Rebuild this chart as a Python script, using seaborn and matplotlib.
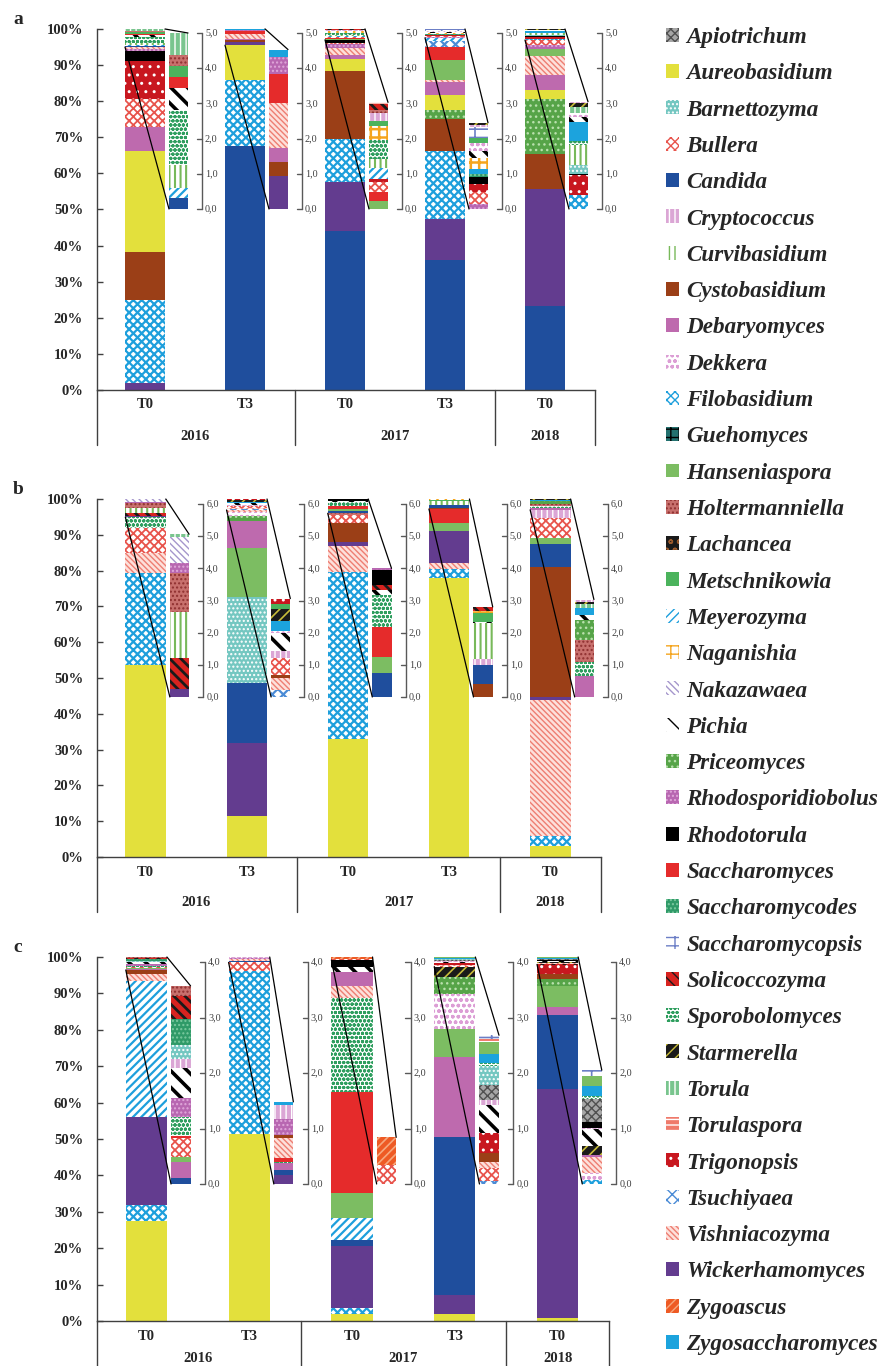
import matplotlib
matplotlib.use("Agg")
import matplotlib.pyplot as plt
import seaborn as sns
from matplotlib.patches import Patch, ConnectionPatch
from matplotlib.font_manager import FontProperties
from matplotlib.transforms import blended_transform_factory

# ---------------- data (relative abundance, %) ----------------
samples = ["T0", "T3", "T0", "T3", "T0"]
years = ["2016", "2017", "2018"]
year_pos = [0.5, 2.5, 4.0]

genera = ["Apiotrichum", "Aureobasidium", "Barnettozyma", "Bullera", "Candida",
          "Cryptococcus", "Curvibasidium", "Cystobasidium", "Debaryomyces", "Dekkera",
          "Filobasidium", "Guehomyces", "Hanseniaspora", "Holtermanniella", "Lachancea",
          "Metschnikowia", "Meyerozyma", "Naganishia", "Nakazawaea", "Pichia",
          "Priceomyces", "Rhodosporidiobolus", "Rhodotorula", "Saccharomyces",
          "Saccharomycodes", "Saccharomycopsis", "Solicoccozyma", "Sporobolomyces",
          "Starmerella", "Torula", "Torulaspora", "Trigonopsis", "Tsuchiyaea",
          "Vishniacozyma", "Wickerhamomyces", "Zygoascus", "Zygosaccharomyces"]

# main part of each bar (bottom -> top)
a_main = [
    [("Wickerhamomyces", 2.0), ("Filobasidium", 23.0), ("Cystobasidium", 13.3), ("Aureobasidium", 28.0),
     ("Debaryomyces", 6.6), ("Bullera", 7.6), ("Trigonopsis", 10.7), ("Rhodotorula", 2.8),
     ("Rhodosporidiobolus", 0.5), ("Vishniacozyma", 0.5)],
    [("Candida", 67.7), ("Filobasidium", 18.2), ("Aureobasidium", 9.6)],
    [("Candida", 44.0), ("Wickerhamomyces", 13.7), ("Filobasidium", 11.8), ("Cystobasidium", 18.8),
     ("Aureobasidium", 3.3), ("Debaryomyces", 1.1), ("Vishniacozyma", 1.9), ("Rhodosporidiobolus", 1.2),
     ("Bullera", 0.3), ("Rhodotorula", 0.9)],
    [("Candida", 36.0), ("Wickerhamomyces", 11.4), ("Filobasidium", 18.9), ("Cystobasidium", 8.8),
     ("Priceomyces", 2.5), ("Aureobasidium", 4.2), ("Debaryomyces", 3.5), ("Vishniacozyma", 0.6),
     ("Hanseniaspora", 5.5), ("Saccharomyces", 3.7), ("Tsuchiyaea", 1.5), ("Meyerozyma", 0.8),
     ("Curvibasidium", 0.15)],
    [("Candida", 23.3), ("Wickerhamomyces", 32.3), ("Cystobasidium", 9.9), ("Priceomyces", 15.2),
     ("Aureobasidium", 2.4), ("Debaryomyces", 4.1), ("Vishniacozyma", 5.3), ("Hanseniaspora", 1.9),
     ("Rhodosporidiobolus", 1.2), ("Bullera", 1.35)],
]
# minor genera on top of each bar, also shown enlarged in the small bar
a_top = [
    [("Candida", 0.30), ("Meyerozyma", 0.30), ("Curvibasidium", 0.65), ("Sporobolomyces", 1.56),
     ("Pichia", 0.64), ("Saccharomyces", 0.30), ("Metschnikowia", 0.32), ("Holtermanniella", 0.31),
     ("Torula", 0.62)],
    [("Wickerhamomyces", 0.94), ("Cystobasidium", 0.39), ("Debaryomyces", 0.40), ("Vishniacozyma", 1.27),
     ("Saccharomyces", 0.83), ("Rhodosporidiobolus", 0.49), ("Zygosaccharomyces", 0.21)],
    [("Hanseniaspora", 0.24), ("Saccharomyces", 0.24), ("Bullera", 0.30), ("Trigonopsis", 0.08),
     ("Meyerozyma", 0.30), ("Curvibasidium", 0.25), ("Sporobolomyces", 0.55), ("Naganishia", 0.40),
     ("Metschnikowia", 0.14), ("Cryptococcus", 0.22), ("Holtermanniella", 0.09), ("Solicoccozyma", 0.17),
     ("Torulaspora", 0.05)],
    [("Rhodosporidiobolus", 0.14), ("Bullera", 0.33), ("Trigonopsis", 0.24), ("Rhodotorula", 0.21),
     ("Saccharomycodes", 0.07), ("Zygosaccharomyces", 0.15), ("Naganishia", 0.30), ("Pichia", 0.22),
     ("Dekkera", 0.22), ("Metschnikowia", 0.13), ("Saccharomycopsis", 0.31), ("Cryptococcus", 0.07),
     ("Starmerella", 0.06)],
    [("Filobasidium", 0.41), ("Trigonopsis", 0.55), ("Rhodotorula", 0.04), ("Barnettozyma", 0.26),
     ("Curvibasidium", 0.57), ("Sporobolomyces", 0.10), ("Zygosaccharomyces", 0.55), ("Pichia", 0.14),
     ("Dekkera", 0.12), ("Torula", 0.17), ("Starmerella", 0.11), ("Cryptococcus", 0.03)],
]

b_main = [
    [("Aureobasidium", 53.6), ("Filobasidium", 25.6), ("Vishniacozyma", 5.8), ("Bullera", 6.8),
     ("Sporobolomyces", 3.14)],
    [("Aureobasidium", 11.5), ("Wickerhamomyces", 20.3), ("Candida", 16.8), ("Barnettozyma", 23.9),
     ("Hanseniaspora", 13.7), ("Debaryomyces", 7.7), ("Priceomyces", 1.4), ("Dekkera", 1.0),
     ("Vishniacozyma", 0.64)],
    [("Aureobasidium", 33.0), ("Filobasidium", 46.7), ("Vishniacozyma", 7.2), ("Wickerhamomyces", 1.2),
     ("Cystobasidium", 5.1), ("Bullera", 2.3), ("Holtermanniella", 0.5)],
    [("Aureobasidium", 77.8), ("Filobasidium", 2.6), ("Vishniacozyma", 1.8), ("Wickerhamomyces", 9.0),
     ("Hanseniaspora", 2.2), ("Saccharomyces", 3.8)],
    [("Aureobasidium", 3.0), ("Filobasidium", 2.9), ("Vishniacozyma", 38.0), ("Wickerhamomyces", 0.8),
     ("Cystobasidium", 36.2), ("Candida", 6.5), ("Hanseniaspora", 1.6), ("Bullera", 5.6),
     ("Cryptococcus", 2.37)],
]
b_top = [
    [("Wickerhamomyces", 0.25), ("Solicoccozyma", 0.96), ("Curvibasidium", 1.42), ("Holtermanniella", 1.21),
     ("Rhodosporidiobolus", 0.33), ("Nakazawaea", 0.79), ("Torula", 0.10)],
    [("Tsuchiyaea", 0.22), ("Vishniacozyma", 0.37), ("Cystobasidium", 0.09), ("Bullera", 0.53),
     ("Cryptococcus", 0.22), ("Pichia", 0.56), ("Dekkera", 0.05), ("Zygosaccharomyces", 0.32),
     ("Starmerella", 0.37), ("Metschnikowia", 0.16), ("Trigonopsis", 0.17)],
    [("Candida", 0.75), ("Hanseniaspora", 0.48), ("Saccharomyces", 0.95), ("Sporobolomyces", 0.99),
     ("Pichia", 0.15), ("Solicoccozyma", 0.16), ("Rhodotorula", 0.46), ("Rhodosporidiobolus", 0.06)],
    [("Cystobasidium", 0.40), ("Candida", 0.59), ("Cryptococcus", 0.19), ("Curvibasidium", 1.12),
     ("Pichia", 0.04), ("Metschnikowia", 0.26), ("Naganishia", 0.08), ("Solicoccozyma", 0.12)],
    [("Debaryomyces", 0.65), ("Sporobolomyces", 0.45), ("Holtermanniella", 0.67), ("Priceomyces", 0.62),
     ("Pichia", 0.16), ("Zygosaccharomyces", 0.21), ("Torula", 0.12), ("Starmerella", 0.06),
     ("Cryptococcus", 0.09)],
]

c_main = [
    [("Aureobasidium", 27.5), ("Filobasidium", 4.4), ("Wickerhamomyces", 24.1), ("Meyerozyma", 37.4),
     ("Vishniacozyma", 1.9), ("Cystobasidium", 1.13)],
    [("Aureobasidium", 51.3), ("Filobasidium", 44.9), ("Bullera", 2.32)],
    [("Aureobasidium", 1.8), ("Filobasidium", 1.7), ("Wickerhamomyces", 17.2), ("Candida", 1.6),
     ("Meyerozyma", 5.9), ("Hanseniaspora", 7.1), ("Saccharomyces", 27.7), ("Sporobolomyces", 25.7),
     ("Vishniacozyma", 3.3), ("Debaryomyces", 4.0), ("Pichia", 1.3), ("Rhodotorula", 1.86)],
    [("Aureobasidium", 1.8), ("Wickerhamomyces", 5.3), ("Candida", 43.5), ("Debaryomyces", 21.8),
     ("Hanseniaspora", 7.8), ("Dekkera", 9.6), ("Priceomyces", 4.8), ("Starmerella", 2.72)],
    [("Aureobasidium", 0.7), ("Wickerhamomyces", 63.0), ("Candida", 20.4), ("Debaryomyces", 2.3),
     ("Hanseniaspora", 5.6), ("Priceomyces", 2.0), ("Cystobasidium", 1.3), ("Trigonopsis", 2.5),
     ("Solicoccozyma", 0.15)],
]
c_top = [
    [("Candida", 0.10), ("Debaryomyces", 0.29), ("Hanseniaspora", 0.09), ("Bullera", 0.34),
     ("Saccharomyces", 0.05), ("Sporobolomyces", 0.33), ("Rhodosporidiobolus", 0.35), ("Pichia", 0.54),
     ("Cryptococcus", 0.16), ("Barnettozyma", 0.25), ("Saccharomycodes", 0.47), ("Solicoccozyma", 0.42),
     ("Holtermanniella", 0.18)],
    [("Wickerhamomyces", 0.17), ("Candida", 0.08), ("Debaryomyces", 0.12), ("Sporobolomyces", 0.03),
     ("Saccharomyces", 0.07), ("Vishniacozyma", 0.35), ("Cystobasidium", 0.06), ("Rhodosporidiobolus", 0.30),
     ("Cryptococcus", 0.24), ("Zygosaccharomyces", 0.06)],
    [("Bullera", 0.34), ("Zygoascus", 0.50)],
    [("Tsuchiyaea", 0.05), ("Bullera", 0.23), ("Vishniacozyma", 0.11), ("Cystobasidium", 0.16),
     ("Trigonopsis", 0.36), ("Pichia", 0.51), ("Cryptococcus", 0.09), ("Apiotrichum", 0.27),
     ("Barnettozyma", 0.34), ("Sporobolomyces", 0.06), ("Zygosaccharomyces", 0.16), ("Hanseniaspora", 0.21),
     ("Torulaspora", 0.06), ("Saccharomycopsis", 0.07)],
    [("Filobasidium", 0.08), ("Dekkera", 0.11), ("Vishniacozyma", 0.29), ("Rhodosporidiobolus", 0.04),
     ("Starmerella", 0.17), ("Pichia", 0.30), ("Cryptococcus", 0.02), ("Rhodotorula", 0.11),
     ("Apiotrichum", 0.41), ("Sporobolomyces", 0.05), ("Zygosaccharomyces", 0.19), ("Hanseniaspora", 0.18),
     ("Saccharomycopsis", 0.10)],
]

# face colour, hatch, hatch colour, hatch linewidth
styles = {
    "Apiotrichum": ("#a6a6a6", "xxxx", "#505050", 1.0),
    "Aureobasidium": ("#e3e03c", None, None, 1.0),
    "Barnettozyma": ("#74c7c1", "....", "white", 1.0),
    "Bullera": ("#ffffff", "xxxx", "#e8544c", 1.3),
    "Candida": ("#1f4e9d", None, None, 1.0),
    "Cryptococcus": ("#dba6d5", "|||", "white", 1.0),
    "Curvibasidium": ("#ffffff", "|||", "#78b95a", 1.5),
    "Cystobasidium": ("#9b3f17", None, None, 1.0),
    "Debaryomyces": ("#be6aae", None, None, 1.0),
    "Dekkera": ("#ffffff", "ooo", "#dc9ed5", 1.0),
    "Filobasidium": ("#ffffff", "xxxx", "#1e9fdc", 1.6),
    "Guehomyces": ("#23716f", "++", "black", 1.2),
    "Hanseniaspora": ("#7cbd62", None, None, 1.0),
    "Holtermanniella": ("#c8706d", "....", "#8f3030", 1.0),
    "Lachancea": ("#1a1a1a", "oo", "#9c5a2c", 1.2),
    "Metschnikowia": ("#4bb35c", None, None, 1.0),
    "Meyerozyma": ("#ffffff", "////", "#1e9fdc", 1.6),
    "Naganishia": ("#ffffff", "++", "#f5a51e", 1.8),
    "Nakazawaea": ("#ffffff", "\\\\\\\\\\", "#a596cc", 1.0),
    "Pichia": ("#ffffff", "\\\\", "black", 2.6),
    "Priceomyces": ("#56a448", "...", "#b9e0ad", 1.0),
    "Rhodosporidiobolus": ("#b867b1", "....", "#e0a8da", 1.0),
    "Rhodotorula": ("#000000", None, None, 1.0),
    "Saccharomyces": ("#e52b2b", None, None, 1.0),
    "Saccharomycodes": ("#2f9a68", "....", "#7ccaa0", 1.0),
    "Saccharomycopsis": ("#ffffff", "-+", "#6c7fc6", 1.2),
    "Solicoccozyma": ("#d8231f", "\\\\\\", "#1a1a1a", 2.0),
    "Sporobolomyces": ("#ffffff", "oooo", "#2e9e5e", 1.1),
    "Starmerella": ("#1a1a1a", "///", "#c9bd3a", 1.2),
    "Torula": ("#79c58e", "|||", "white", 1.0),
    "Torulaspora": ("#ef7a6b", "---", "white", 1.0),
    "Trigonopsis": ("#c8171f", "..", "white", 1.0),
    "Tsuchiyaea": ("#ffffff", "xxx", "#4a8bd6", 1.6),
    "Vishniacozyma": ("#fde0db", "\\\\\\\\\\\\", "#ee7e72", 1.0),
    "Wickerhamomyces": ("#633c8f", None, None, 1.0),
    "Zygoascus": ("#ee5a24", "////", "#f7a77e", 1.2),
    "Zygosaccharomyces": ("#1ca3dd", None, None, 1.0),
}

W, H = 879, 1366
sns.set_theme(style="white")
plt.rcParams["font.family"] = ["Liberation Serif", "DejaVu Serif"]
AXC = "#404040"

fig = plt.figure(figsize=(W / 100, H / 100), dpi=100)


def stack(ax, x, w, segs, start=0.0):
    bottom = start
    for g, v in segs:
        face, hatch, hc, lw = styles[g]
        with plt.rc_context({"hatch.linewidth": lw}):
            ax.bar(x, v, w, bottom=bottom, color=face, hatch=hatch,
                   edgecolor=hc if hc else face, linewidth=0)
        bottom += v
    return bottom


def below(ax, x, px, text):
    ax.annotate(text, xy=(x, 0), xycoords=("data", "axes fraction"),
                xytext=(0, -px * 0.72), textcoords="offset points",
                ha="center", va="center", fontsize=10.5, fontweight="bold",
                annotation_clip=False)


# letter, main, top, (left, right, y100, y0) px, (y of 0,0 ; y of top tick ; top tick), year offset, separator length
panels = [
    ("a", a_main, a_top, (97, 595, 29, 390), (209, 33, 5), 46, 55),
    ("b", b_main, b_top, (97, 601, 499, 857), (697, 504, 6), 46, 55),
    ("c", c_main, c_top, (97, 609, 957, 1321), (1184, 962, 4), 37, 46),
]

for letter, main, top, (l, r, y100, y0), (yz, yt, nt), yoff, sep in panels:
    ax = fig.add_axes([l / W, 1 - y0 / H, (r - l) / W, (y0 - y100) / H])
    ax.set_xlim(-0.48, 4.5)
    ax.set_ylim(0, 100)
    ax2 = ax.twinx()
    ppu = (yz - yt) / nt
    ax2.set_ylim(-(y0 - yz) / ppu, (yz - y100) / ppu)
    ax2.axis("off")

    for i in range(5):
        cut = stack(ax, i, 0.4, main[i])
        end = stack(ax, i, 0.4, top[i], start=cut)
        tot = stack(ax2, i + 0.335, 0.19, top[i])
        for xa, ya, xb, yb in [(i - 0.2, cut, i + 0.24, 0), (i + 0.2, end, i + 0.43, tot)]:
            fig.add_artist(ConnectionPatch((xa, ya), (xb, yb), coordsA=ax.transData,
                                           coordsB=ax2.transData, color="black", lw=0.9))
        # small scale next to the enlarged bar
        xb = i + 0.57
        ax2.plot([xb, xb], [0, nt], color="#595959", lw=1, clip_on=False)
        for t in range(nt + 1):
            ax2.plot([xb - 0.05, xb], [t, t], color="#595959", lw=1, clip_on=False)
            ax2.text(xb + 0.03, t, f"{t},0", ha="left", va="center", fontsize=7.3,
                     color="#404040")
        below(ax, i, 15, samples[i])

    for x, yr in zip(year_pos, years):
        below(ax, x, yoff, yr)
    tr = blended_transform_factory(ax.transData, ax.transAxes)
    for x in [-0.48, 1.5, 3.5, 4.5]:
        ax.plot([x, x], [0, -sep / (y0 - y100)], transform=tr, color=AXC, lw=1, clip_on=False)

    sns.despine(ax=ax, top=True, right=True)
    for s in ["left", "bottom"]:
        ax.spines[s].set_color(AXC)
        ax.spines[s].set_linewidth(1)
    ax.set_xticks([])
    ax.set_yticks(range(0, 101, 10))
    ax.set_yticklabels([f"{v}%" for v in range(0, 101, 10)], fontsize=10.5, fontweight="bold")
    ax.tick_params(axis="y", left=True, direction="in", length=4, width=1, color=AXC, pad=10)
    ax.grid(False)
    fig.text(18 / W, 1 - (y100 - 9) / H, letter, fontsize=14, fontweight="bold",
             ha="center", va="center")

# legend
handles = []
for g in genera:
    face, hatch, hc, lw = styles[g]
    with plt.rc_context({"hatch.linewidth": lw}):
        handles.append(Patch(facecolor=face, hatch=hatch, edgecolor=hc if hc else face,
                             linewidth=0, label=g))
fig.legend(handles=handles, loc="upper left", bbox_to_anchor=(666 / W, 1 - 27 / H),
           frameon=False, prop=FontProperties(family="Liberation Serif", weight="bold",
                                              style="italic", size=16.7),
           handlelength=0.55, handleheight=0.55, handletextpad=0.33, labelspacing=0.66,
           borderaxespad=0, borderpad=0)

fig.savefig("out.png", dpi=100)
